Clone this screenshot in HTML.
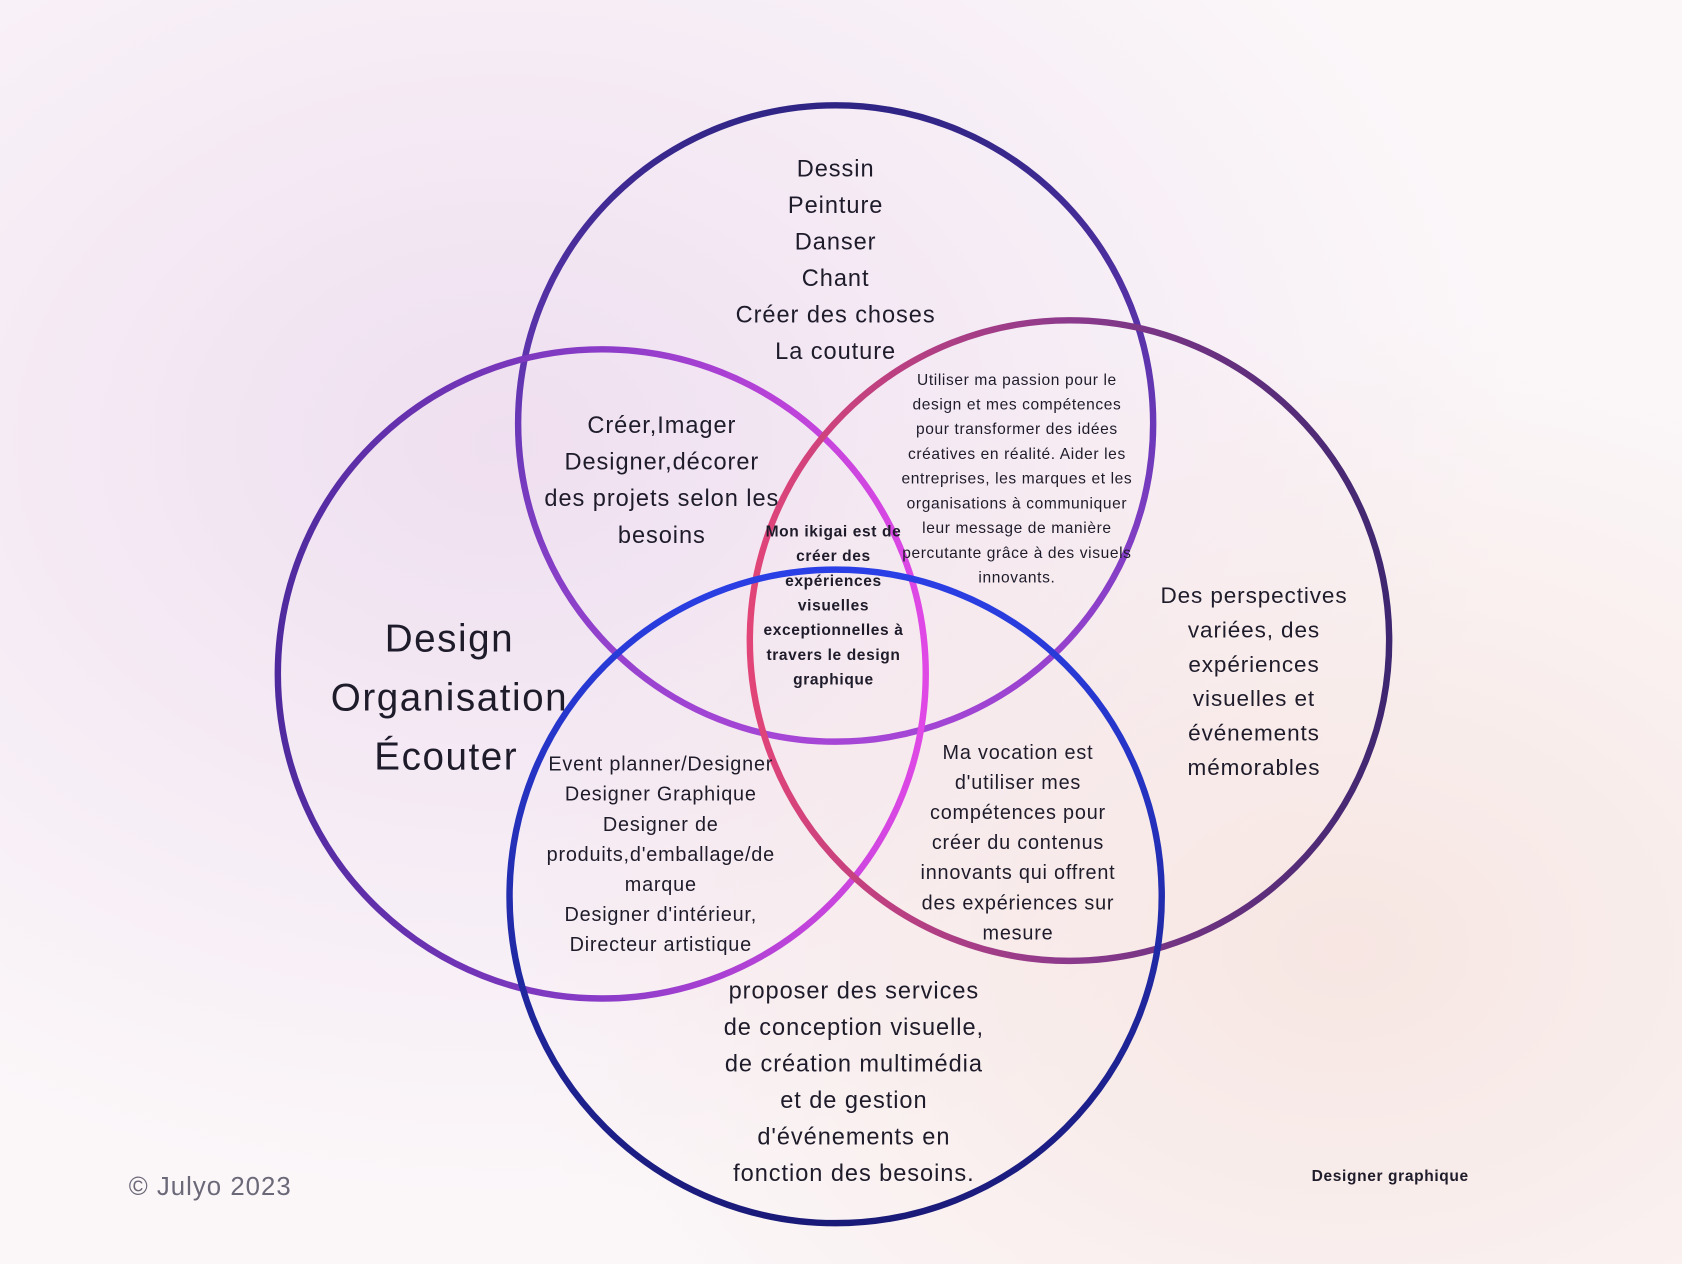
<!DOCTYPE html>
<html><head><meta charset="utf-8">
<style>
html,body{margin:0;padding:0;width:1682px;height:1264px;overflow:hidden;}
body{background:#faf6f8;}
svg{display:block;font-family:"Liberation Sans",sans-serif;fill:#1e1b2a;}
svg text{letter-spacing:0.04em;}
</style></head>
<body>
<svg width="1682" height="1264" viewBox="0 0 1568 1176" preserveAspectRatio="none" xmlns="http://www.w3.org/2000/svg">
<defs>
<radialGradient id="bg1" cx="0.3" cy="0.35" r="0.6">
<stop offset="0" stop-color="#efdff0"/><stop offset="1" stop-color="#efdff0" stop-opacity="0"/>
</radialGradient>
<radialGradient id="bg2" cx="0.8" cy="0.75" r="0.5">
<stop offset="0" stop-color="#f7e6e2"/><stop offset="1" stop-color="#f7e6e2" stop-opacity="0"/>
</radialGradient>
<linearGradient id="gTop" x1="0" y1="0" x2="0" y2="1">
<stop offset="0" stop-color="#2f2585"/><stop offset="0.5" stop-color="#6a38b8"/><stop offset="1" stop-color="#a646d6"/>
</linearGradient>
<linearGradient id="gLeft" x1="0" y1="0" x2="1" y2="0">
<stop offset="0" stop-color="#4f2a9e"/><stop offset="0.5" stop-color="#8a3cc8"/><stop offset="1" stop-color="#e048e6"/>
</linearGradient>
<linearGradient id="gRight" x1="0" y1="0" x2="1" y2="0">
<stop offset="0" stop-color="#e24578"/><stop offset="0.5" stop-color="#8c3a8c"/><stop offset="1" stop-color="#3e2670"/>
</linearGradient>
<linearGradient id="gBot" x1="0" y1="0" x2="0" y2="1">
<stop offset="0" stop-color="#2a3fe6"/><stop offset="1" stop-color="#1a1a78"/>
</linearGradient>
</defs>
<rect width="1568" height="1176" fill="#fbf7f9"/>
<rect width="1568" height="1176" fill="url(#bg1)"/>
<rect width="1568" height="1176" fill="url(#bg2)"/>
<g fill="none" stroke-width="6">
<circle cx="779" cy="394" r="296" stroke="url(#gTop)"/>
<circle cx="561" cy="627" r="302" stroke="url(#gLeft)"/>
<circle cx="997" cy="596" r="298" stroke="url(#gRight)"/>
<circle cx="779" cy="834" r="304" stroke="url(#gBot)"/>
</g>
<g text-anchor="middle">
<g font-size="22">
<text x="779" y="164">Dessin</text>
<text x="779" y="198">Peinture</text>
<text x="779" y="232">Danser</text>
<text x="779" y="266">Chant</text>
<text x="779" y="300">Créer des choses</text>
<text x="779" y="334">La couture</text>
</g>
<g font-size="22">
<text x="617" y="403">Créer,Imager</text>
<text x="617" y="437">Designer,décorer</text>
<text x="617" y="471">des projets selon les</text>
<text x="617" y="505">besoins</text>
</g>
<g font-size="36">
<text x="419" y="606">Design</text>
<text x="419" y="661">Organisation</text>
<text x="416" y="716">Écouter</text>
</g>
<g font-size="14.5">
<text x="948" y="358">Utiliser ma passion pour le</text>
<text x="948" y="381">design et mes compétences</text>
<text x="948" y="404">pour transformer des idées</text>
<text x="948" y="427">créatives en réalité. Aider les</text>
<text x="948" y="450">entreprises, les marques et les</text>
<text x="948" y="473">organisations à communiquer</text>
<text x="948" y="496">leur message de manière</text>
<text x="948" y="519">percutante grâce à des visuels</text>
<text x="948" y="542">innovants.</text>
</g>
<g font-size="14.5" font-weight="bold">
<text x="777" y="499">Mon ikigai est de</text>
<text x="777" y="522">créer des</text>
<text x="777" y="545">expériences</text>
<text x="777" y="568">visuelles</text>
<text x="777" y="591">exceptionnelles à</text>
<text x="777" y="614">travers  le design</text>
<text x="777" y="637">graphique</text>
</g>
<g font-size="21">
<text x="1169" y="561">Des perspectives</text>
<text x="1169" y="593">variées, des</text>
<text x="1169" y="625">expériences</text>
<text x="1169" y="657">visuelles et</text>
<text x="1169" y="689">événements</text>
<text x="1169" y="721">mémorables</text>
</g>
<g font-size="18.5">
<text x="616" y="717">Event planner/Designer</text>
<text x="616" y="745">Designer Graphique</text>
<text x="616" y="773">Designer de</text>
<text x="616" y="801">produits,d'emballage/de</text>
<text x="616" y="829">marque</text>
<text x="616" y="857">Designer d'intérieur,</text>
<text x="616" y="885">Directeur artistique</text>
</g>
<g font-size="18.5">
<text x="949" y="706">Ma vocation est</text>
<text x="949" y="734">d'utiliser mes</text>
<text x="949" y="762">compétences  pour</text>
<text x="949" y="790">créer du contenus</text>
<text x="949" y="818">innovants qui offrent</text>
<text x="949" y="846">des expériences sur</text>
<text x="949" y="874">mesure</text>
</g>
<g font-size="22">
<text x="796" y="929">proposer des services</text>
<text x="796" y="963">de conception visuelle,</text>
<text x="796" y="997">de création multimédia</text>
<text x="796" y="1031">et de gestion</text>
<text x="796" y="1065">d'événements en</text>
<text x="796" y="1099">fonction des besoins.</text>
</g>
<text x="1296" y="1099" font-size="14.5" font-weight="bold">Designer graphique</text>
</g>
<text x="120" y="1112" font-size="24" fill="#6b6878">© Julyo 2023</text>
</svg>
</body></html>
